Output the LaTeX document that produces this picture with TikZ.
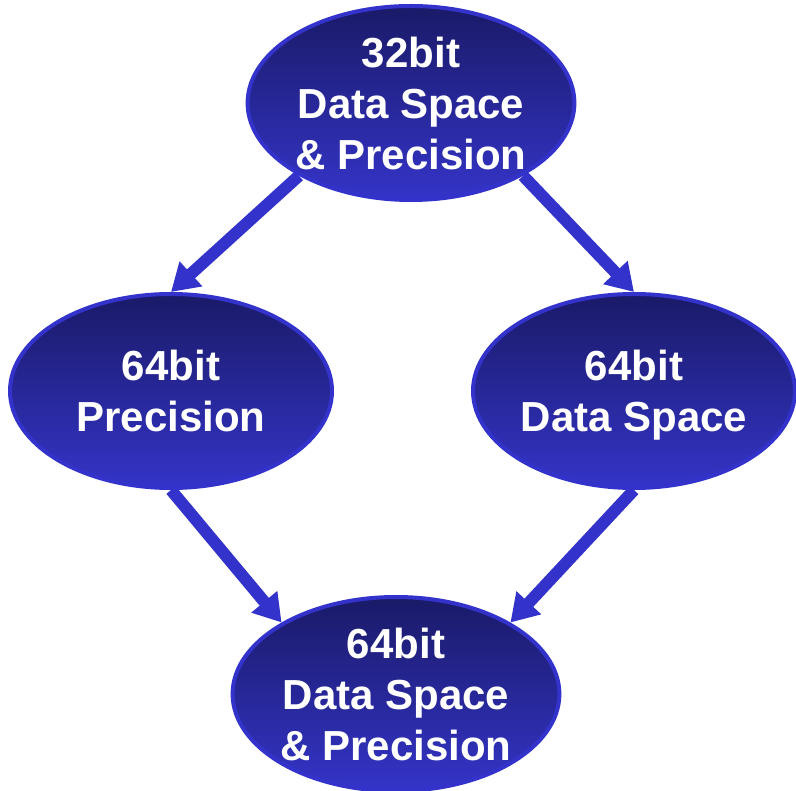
\documentclass[tikz,border=0pt]{standalone}
\usepackage{fontspec}
\setmainfont{Liberation Sans}
\usetikzlibrary{shapes.geometric,arrows.meta}
\definecolor{bordblue}{RGB}{51,51,204}
\definecolor{topnavy}{RGB}{26,26,104}
\definecolor{botblue}{RGB}{52,52,200}
\tikzset{
  bubble/.style={ellipse, draw=bordblue, line width=4pt, top color=topnavy, bottom color=botblue,
    minimum width=322pt, minimum height=194pt, inner sep=0pt, text=white, align=center, text depth=0pt,
    font=\fontsize{42pt}{51pt}\selectfont\bfseries},
  flow/.style={draw=bordblue, line width=12pt, -{Triangle[width=32pt,length=27pt]}}
}
\begin{document}
\begin{tikzpicture}[x=1pt,y=-1pt]
\useasboundingbox (0,0) rectangle (796,791);
\node[bubble] (top) at (411,103) {32bit\\Data Space\\\& Precision};
\node[bubble] (left) at (171,391) {64bit\\Precision};
\node[bubble] (right) at (634,391) {64bit\\Data Space};
\node[bubble] (bot) at (396,694) {64bit\\Data Space\\\& Precision};
\draw[flow] (top.213) -- (left.north);
\draw[flow] (top.-33) -- (right.north);
\draw[flow] (left.south) -- (bot.148);
\draw[flow] (right.south) -- (bot.32);
\end{tikzpicture}
\end{document}
